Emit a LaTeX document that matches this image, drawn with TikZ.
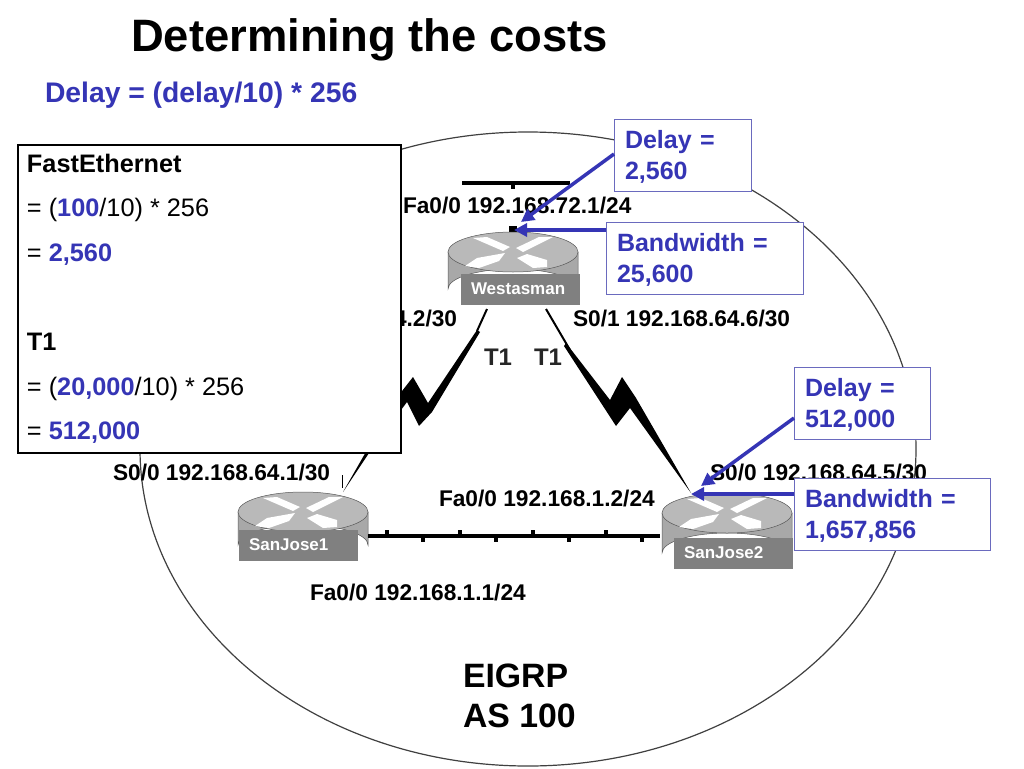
\documentclass[tikz,border=0pt]{standalone}
\usepackage{fontspec}
\usetikzlibrary{arrows.meta}
\setmainfont{Liberation Sans}
\definecolor{blu}{HTML}{3535B5}
\definecolor{edgeb}{HTML}{6A6ABE}
\definecolor{rtop}{HTML}{B9B9B9}
\definecolor{rside}{HTML}{A8A8A8}
\definecolor{rlab}{HTML}{808080}
\newcommand{\fs}[2]{\fontsize{#1}{#2}\selectfont}
\newcommand{\cstrut}{\rule{0pt}{22pt}}
\newcommand{\rtr}[6]{% name, cx, top-centre y, side-centre y, label x0, label text
  \fill[rside,draw=gray!70!black,line width=.5pt] (#2-65,#3) -- (#2-65,#4) arc[start angle=180,end angle=360,x radius=65,y radius=20] -- (#2+65,#3) -- cycle;
  \fill[rtop,draw=gray!70!black,line width=.5pt] (#2,#3) ellipse[x radius=65,y radius=20];
  \begin{scope}[shift={(#2,#3)},white]
    \fill (-40,-14) -- (-26,-15) -- (-3,-5) -- (-10,-1) -- cycle;
    \fill (40,-15) -- (26,-15) -- (3,-4) -- (10,0) -- cycle;
    \fill (-48,14) -- (-36,6) -- (-8,1) -- (-14,9) -- (-34,16) -- cycle;
    \fill (34,15) -- (20,16) -- (4,6) -- (14,2) -- (34,8) -- cycle;
  \end{scope}
  \node[rlabel] (#1) at (#5+59.5,#4) {#6};
}
\begin{document}
\begin{tikzpicture}[x=1pt,y=-1pt,
  tight/.style={inner sep=0pt,outer sep=0pt},
  rlabel/.style={tight,fill=rlab,text=white,font=\bfseries\fs{17}{19},minimum height=31pt,text width=99pt,inner xsep=10pt,align=left},
  addr/.style={tight,anchor=west,font=\bfseries\fs{22.7}{25}},
  callout/.style={tight,draw=edgeb,line width=1pt,fill=white,text=blu,anchor=north west,font=\bfseries\fs{25}{31},align=left},
  hdr/.style={tight,anchor=west,font=\fs{25.3}{28}},
  arrowb/.style={draw=blu,line width=3.5pt,-{Triangle[length=13pt,width=13pt]}},
  lan/.style={line width=4pt,black},
  t1/.style={line width=2pt,black}]
\useasboundingbox (0,0) rectangle (1024,768);
\fill[white] (0,0) rectangle (1024,768);

% AS boundary
\draw[line width=1.2pt,black!75] (528,449) ellipse[x radius=388,y radius=317];

% Top LAN
\coordinate (lanl) at (462,183);
\coordinate (lanr) at (570,183);
\draw[lan] (lanl) -- (lanr);
\coordinate (lantap) at (513,183);
\draw[line width=4pt] (lantap) -- ++(0,6);
\fill (509,226) rectangle (517,233);

% Routers
\rtr{westasman}{513}{252}{289}{461}{Westasman}
\rtr{sanjoseone}{303}{512}{545}{239}{SanJose1}
\rtr{sanjosetwo}{727}{513}{553}{674}{SanJose2}

% Serial links
\coordinate (wl) at (487,309);
\coordinate (wr) at (546,309);
\coordinate (sl) at (343,492);
\coordinate (sr) at (691,493);
\draw[t1] (wl) -- (477,331);
\fill (477,330) -- (428,403) -- (413,377) -- (395,400) -- (395,418) -- (407,402) -- (419,426) -- (432,412) -- (480,332) -- cycle;
\draw[t1] (wr) -- (570,350);
\fill (566,343) -- (610,400) -- (622,377) -- (636,398) -- (sr) -- (630,408) -- (616,426) -- (603,406) -- (564,346) -- cycle;
\fill (367,450) -- (371,450) -- (sl) -- cycle;
\draw[line width=.5pt] (342,475) -- (342,488);

% Bottom LAN
\draw[lan] (368,536) -- (660,536);
\foreach \x in {387,460,533,606} \fill (\x-2,530) rectangle (\x+2,536);
\foreach \x in {423,496,569,642} \fill (\x-2,536) rectangle (\x+2,542);

% T1 marks
\node[tight,font=\bfseries\fs{24}{26},text=black!85] (tone) at (498,357) {T1};
\node[tight,font=\bfseries\fs{24}{26},text=black!85] (ttwo) at (548,357) {T1};

% Address labels
\node[addr] (a1) at (403,206) {Fa0/0 192.168.72.1/24};
\node[addr] (a2) at (573,318) {S0/1 192.168.64.6/30};
\node[addr] (a3) at (394,318) {4.2/30};
\node[addr] (a4) at (113,472) {S0/0 192.168.64.1/30};
\node[addr] (a5) at (710,472) {S0/0 192.168.64.5/30};
\node[addr] (a6) at (439,498) {Fa0/0 192.168.1.2/24};
\node[addr] (a7) at (310,592) {Fa0/0 192.168.1.1/24};

% Panel
\node[tight,draw=black,line width=2.5pt,fill=white,minimum width=383pt,minimum height=308pt,anchor=north west] (panel) at (18,145) {};
\node[hdr,font=\bfseries\fs{25.3}{28}] (p1) at (27,163.5) {FastEthernet};
\node[hdr] (p2) at (27,210) {= (\textcolor{blu}{\textbf{100}}/10) * 256};
\node[hdr] (p3) at (27,255) {= \textcolor{blu}{\textbf{2,560}}};
\node[hdr,font=\bfseries\fs{25.3}{28}] (p4) at (27,342) {T1};
\node[hdr] (p5) at (27,389) {= (\textcolor{blu}{\textbf{20,000}}/10) * 256};
\node[hdr] (p6) at (27,433) {= \textcolor{blu}{\textbf{512,000}}};

% Callouts
\node[callout,minimum width=136pt,minimum height=72pt,text width=115pt,inner xsep=11pt] (c1) at (614,119) {\cstrut Delay =\\2,560};
\node[callout,minimum width=196pt,minimum height=72pt,text width=175pt,inner xsep=11pt] (c2) at (606,222) {\cstrut Bandwidth =\\25,600};
\node[callout,minimum width=135pt,minimum height=72pt,text width=114pt,inner xsep=11pt] (c3) at (794,367) {\cstrut Delay =\\512,000};
\node[callout,minimum width=195pt,minimum height=72pt,text width=174pt,inner xsep=11pt] (c4) at (794,478) {\cstrut Bandwidth =\\1,657,856};

\coordinate (t1) at (521,222);
\coordinate (t2) at (514,230);
\coordinate (t3) at (701,486);
\coordinate (t4) at (691,494);
\draw[arrowb] (c1.west |- 0,154) -- (t1);
\draw[arrowb] (c2.west |- 0,230) -- (t2);
\draw[arrowb] (c3.west |- 0,418) -- (t3);
\draw[arrowb] (c4.west |- 0,494) -- (t4);

% Titles
\node[tight,anchor=west,font=\bfseries\fs{45.4}{50}] (title) at (131,40) {Determining the costs};
\node[tight,anchor=west,text=blu,font=\bfseries\fs{28.3}{31}] (sub) at (45,95) {Delay = (delay/10) * 256};
\node[tight,anchor=north west,align=left,font=\bfseries\fs{33.8}{40}] (eigrp) at (463,664) {EIGRP\\AS 100};
\end{tikzpicture}
\end{document}
